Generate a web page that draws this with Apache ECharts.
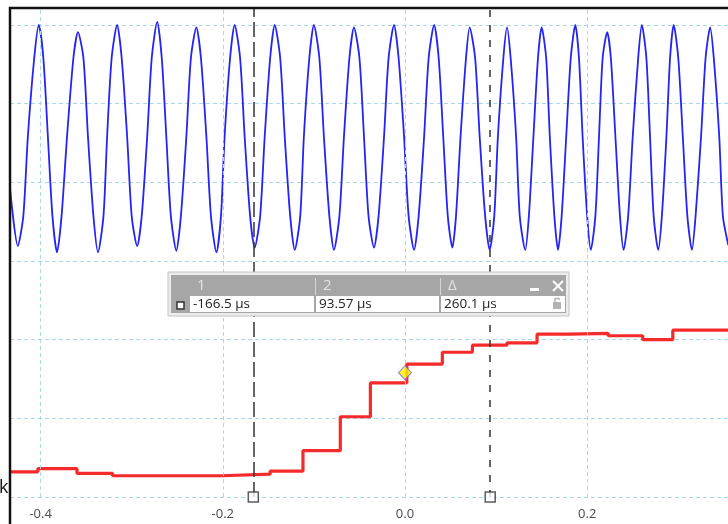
<!DOCTYPE html>
<html><head><meta charset="utf-8">
<script src="https://cdn.jsdelivr.net/npm/echarts@6/dist/echarts.min.js"></script>
<style>html,body{margin:0;padding:0;background:#fff}#c{width:728px;height:524px}</style>
</head><body><div id="c"></div>
<script>
// time in microseconds, value in screen divisions
const blueTime = [-434,-425,-419,-414,-407,-402,-397,-392,-387,-382,-377,-371,-364,-359,-353,-348,-342,-337,-331,-327,-322,-316,-311,-305,-300,-294,-289,-283,-278,-272,-267,-262,-257,-251,-246,-240,-235,-229,-224,-218,-213,-207,-202,-198,-192,-187,-181,-176,-170,-165,-159,-154,-148,-143,-137,-132,-126,-121,-115,-111,-105,-100,-94,-89,-83,-78,-72,-67,-61,-56,-50,-45,-40,-34,-29,-23,-18,-12,-7,-1,4,10,15,21,26,32,37,42,47,52,56,61,67,71,77,82,88,93,98,102,108,112,116,122,126,132,136,141,146,150,155,159,164,168,172,177,182,187,191,195,200,204,209,213,217,222,226,231,236,240,245,250,256,260,265,269,273,278,282,287,291,295,300,305,310,315,319,325,330,335,339,345,349,355];
const blueValue = [3.97,3.19,3.57,4.58,5.58,6.00,5.58,4.58,3.57,3.11,3.57,4.58,5.58,5.91,5.58,4.58,3.57,3.11,3.57,4.58,5.58,6.00,5.58,4.58,3.57,3.19,3.57,4.58,5.58,6.04,5.58,4.58,3.57,3.13,3.57,4.58,5.58,5.97,5.58,4.58,3.57,3.11,3.57,4.58,5.58,6.00,5.58,4.58,3.57,3.17,3.57,4.58,5.58,6.00,5.58,4.58,3.57,3.14,3.57,4.58,5.58,6.00,5.58,4.58,3.57,3.14,3.57,4.58,5.58,5.97,5.58,4.58,3.57,3.17,3.57,4.58,5.58,6.00,5.58,4.58,3.57,3.14,3.57,4.58,5.58,6.00,5.58,4.58,3.57,3.17,3.57,4.58,5.58,5.97,5.58,4.58,3.57,3.14,3.57,4.58,5.58,5.97,5.58,4.58,3.57,3.14,3.57,4.58,5.58,5.97,5.58,4.58,3.57,3.14,3.57,4.58,5.58,6.00,5.58,4.58,3.57,3.14,3.57,4.58,5.58,5.91,5.58,4.58,3.57,3.14,3.57,4.58,5.58,6.00,5.58,4.58,3.57,3.14,3.57,4.58,5.58,6.00,5.58,4.58,3.57,3.14,3.57,4.58,5.58,5.97,5.58,4.58,3.57,3.20];
const redTime = [-434,-403,-360,-321,-201,-148,-112,-71,-38,2,41,74,112,145,181,223,261,294,355];
const redValue = [0.32,0.36,0.30,0.27,0.29,0.33,0.59,1.02,1.45,1.69,1.84,1.93,1.96,2.07,2.08,2.05,2.00,2.12,2.12];
const cursorTimes = [-166.5, 93.57];
const triggerTime = 0;
const triggerValue = 1.58;
const xTickValues = [-400, -200, 0, 200];
const tableHeaders = ['1', '2', 'Δ'];
const tableValues = ['-166.5 µs', '93.57 µs', '260.1 µs'];
const sideLabel = 'k';

const zip = (a, b) => a.map((v, i) => [v, b[i]]);
const chart = echarts.init(document.getElementById('c'), null, {renderer: 'canvas'});
const FONT = '"Open Sans", "Noto Sans", sans-serif';
const gridColor = '#a9d8ea';

const colX = [190, 316, 441];
const colW = [124, 123, 124];
const graphic = [
  {type: 'line', z: 100, shape: {x1: 9, y1: 8, x2: 728, y2: 8}, style: {stroke: '#111', lineWidth: 2.5}},
  {type: 'line', z: 100, shape: {x1: 10, y1: 7, x2: 10, y2: 524}, style: {stroke: '#111', lineWidth: 2.5}},
  {type: 'text', z: 100, x: -1, y: 488, style: {text: sideLabel, font: '18px ' + FONT, fill: '#111', verticalAlign: 'middle'}},
  {type: 'rect', z: 100, shape: {x: 168, y: 272, width: 401, height: 44}, style: {fill: '#ececec', stroke: '#c4c4c4', lineWidth: 1}},
  {type: 'rect', z: 101, shape: {x: 171, y: 275, width: 395, height: 38}, style: {fill: '#a6a6a6'}},
  {type: 'rect', z: 102, shape: {x: 177, y: 302, width: 7, height: 7}, style: {fill: '#fff', stroke: '#333', lineWidth: 1.5}},
  {type: 'rect', z: 102, shape: {x: 530, y: 288, width: 9, height: 3}, style: {fill: '#fff'}},
  {type: 'line', z: 102, shape: {x1: 553, y1: 281, x2: 563, y2: 291}, style: {stroke: '#fff', lineWidth: 2}},
  {type: 'line', z: 102, shape: {x1: 563, y1: 281, x2: 553, y2: 291}, style: {stroke: '#fff', lineWidth: 2}},
  {type: 'line', z: 102, shape: {x1: 315.5, y1: 278, x2: 315.5, y2: 295}, style: {stroke: '#d6d6d6', lineWidth: 1}},
  {type: 'line', z: 102, shape: {x1: 440.5, y1: 278, x2: 440.5, y2: 295}, style: {stroke: '#d6d6d6', lineWidth: 1}}
];
tableHeaders.forEach((t, i) => {
  graphic.push({type: 'rect', z: 102, shape: {x: colX[i], y: 296, width: colW[i], height: 16}, style: {fill: '#fff'}});
  graphic.push({type: 'text', z: 103, x: colX[i] + 7, y: 286, style: {text: t, font: '15px ' + FONT, fill: '#e2e2e2', verticalAlign: 'middle'}});
  graphic.push({type: 'text', z: 103, x: colX[i] + 3, y: 304, style: {text: tableValues[i], font: '13.5px ' + FONT, fill: '#222', verticalAlign: 'middle'}});
});
// lock icon
graphic.push({type: 'rect', z: 103, shape: {x: 553, y: 302, width: 8, height: 7}, style: {fill: '#b4b4b4'}});
graphic.push({type: 'polyline', z: 103, shape: {points: [[555, 302], [555, 298.5], [559, 298.5], [559, 300]]}, style: {stroke: '#b4b4b4', fill: null, lineWidth: 1.5}});

chart.setOption({
  animation: false,
  grid: {left: 10, right: 0, top: 8, bottom: 27, containLabel: false},
  xAxis: {
    type: 'value', min: -433.6, max: 354.6,
    axisLine: {show: false}, axisTick: {show: false}, splitLine: {show: false},
    axisLabel: {customValues: xTickValues, formatter: v => (v / 1000).toFixed(1), color: '#4a4a55', fontSize: 13, margin: 11, fontFamily: FONT}
  },
  yAxis: {
    type: 'value', min: 0, max: 6.2158, interval: 1,
    axisLine: {show: false}, axisTick: {show: false}, axisLabel: {show: false},
    splitLine: {show: true, lineStyle: {color: gridColor, type: [4, 3], width: 1}}
  },
  graphic: graphic,
  series: [
    {type: 'line', data: [[xTickValues[0], 0]], showSymbol: false, lineStyle: {opacity: 0}, z: 1, silent: true,
     markLine: {silent: true, symbol: ['none', 'none'], label: {show: false},
       lineStyle: {color: gridColor, type: [4, 3], width: 1},
       data: xTickValues.map(v => ({xAxis: v}))}},
    {type: 'line', data: zip(blueTime, blueValue), showSymbol: false, z: 3, smooth: 0.25,
     lineStyle: {color: '#2424f4', width: 1.8}},
    {type: 'line', step: 'end', data: zip(redTime, redValue), showSymbol: false, z: 4,
     lineStyle: {color: '#f52a2a', width: 3.2}},
    {type: 'scatter', data: cursorTimes.map(t => [t, 0]), symbol: 'rect', symbolSize: 10, z: 10,
     itemStyle: {color: '#fff', borderColor: '#333', borderWidth: 1.5},
     markLine: {silent: true, symbol: ['none', 'none'], label: {show: false},
       data: [
         {xAxis: cursorTimes[0], lineStyle: {color: '#333', width: 1.5, type: [15, 5]}},
         {xAxis: cursorTimes[1], lineStyle: {color: '#333', width: 1.5, type: [7, 8]}}
       ]}},
    {type: 'scatter', data: [[triggerTime, triggerValue]], symbol: 'diamond', symbolSize: [13, 14], z: 11,
     itemStyle: {color: '#ffee00', borderColor: '#6a6af0', borderWidth: 1}}
  ]
});
</script></body></html>
